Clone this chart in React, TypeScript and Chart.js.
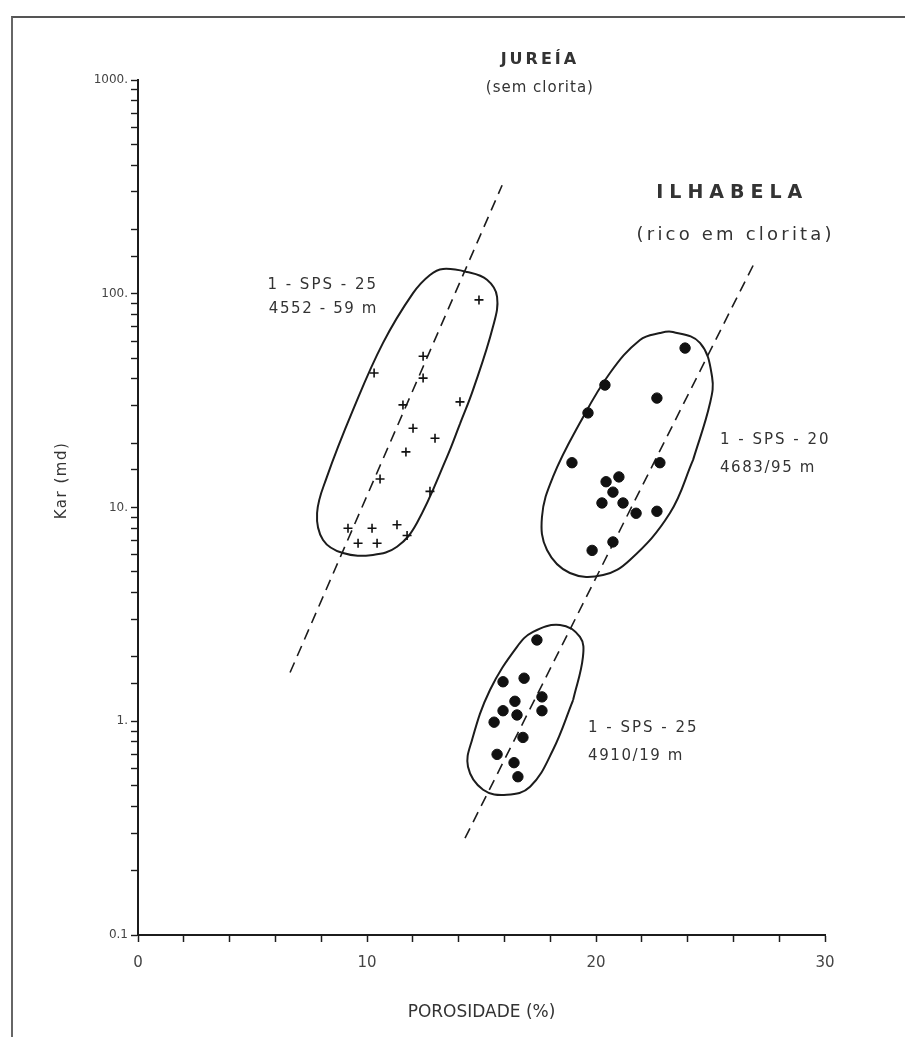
import React, { useEffect, useRef } from "react";
import { Chart, registerables } from "chart.js";

Chart.register(...registerables);

// ---------- data (porosity %, permeability md) ----------
const jureiaPorosity = [14.89, 12.45, 10.31, 12.45, 11.57, 14.06, 12.01, 12.97, 11.7, 10.57, 12.75, 9.17, 10.22, 11.31, 9.61, 10.44, 11.75];
const jureiaPerm = [93.6, 51.0, 42.6, 40.3, 30.2, 31.2, 23.5, 21.1, 18.2, 13.6, 11.9, 8.0, 8.0, 8.3, 6.8, 6.8, 7.4];

const ilhabelaUpperPorosity = [23.89, 22.66, 20.39, 19.65, 18.95, 22.79, 21.0, 20.44, 20.74, 20.26, 21.18, 21.75, 22.66, 20.74, 19.83];
const ilhabelaUpperPerm = [55.7, 32.5, 37.4, 27.7, 16.2, 16.2, 13.9, 13.2, 11.8, 10.5, 10.5, 9.4, 9.6, 6.9, 6.3];

const ilhabelaLowerPorosity = [17.42, 15.94, 16.86, 17.64, 17.64, 16.46, 15.94, 16.55, 15.55, 16.81, 15.68, 16.42, 16.59];
const ilhabelaLowerPerm = [2.4, 1.53, 1.59, 1.3, 1.12, 1.24, 1.12, 1.07, 0.99, 0.84, 0.7, 0.64, 0.55];

// trend lines (dashed)
const jureiaTrendX = [6.64, 15.9];
const jureiaTrendY = [1.69, 322];
const ilhabelaTrendX = [14.28, 26.94];
const ilhabelaTrendY = [0.284, 141];

// hand-drawn envelopes
const jureiaOutlineX = [14.06, 13.49, 12.18, 11.31, 10.26, 8.95, 8.08, 7.82, 8.25, 9.39, 10.7, 12.01, 12.75, 13.32, 14.37, 15.24, 15.68, 15.5, 14.63, 14.06];
const jureiaOutlineY = [24.6, 17.2, 8.47, 6.55, 6.0, 6.12, 7.05, 9.42, 13.9, 28.6, 58.9, 100.7, 122.5, 130.6, 126.4, 116.2, 96.8, 70.0, 35.5, 24.6];

const upperOutlineX = [24.24, 23.23, 21.48, 20.31, 18.86, 17.86, 17.64, 18.12, 19.3, 20.61, 21.92, 22.79, 23.36, 24.54, 25.07, 24.98, 24.24];
const upperOutlineY = [16.7, 9.42, 5.68, 4.83, 4.94, 6.33, 9.03, 13.9, 24.9, 42.6, 60.8, 65.5, 66.2, 58.9, 40.8, 30.8, 16.7];

const lowerOutlineX = [19.0, 18.12, 17.12, 16.11, 15.07, 14.41, 14.59, 15.37, 16.55, 17.25, 18.43, 19.3, 19.43, 19.0];
const lowerOutlineY = [1.257, 0.734, 0.494, 0.453, 0.478, 0.612, 0.82, 1.4, 2.23, 2.62, 2.82, 2.48, 2.0, 1.257];

// axis ticks
const xMin = 0;
const xMax = 30;
const xStep = 2;
const xLabelledTicks = [0, 10, 20, 30];
const yMin = 0.1;
const yMax = 1000;
const yMajorValues = [0.1, 1, 10, 100, 1000];
const yMajorLabels = ["0.1", "1.", "10.", "100.", "1000."];

// text annotations (anchored in data coordinates)
const annotationTexts = ["JUREÍA", "(sem clorita)", "ILHABELA", "(rico em clorita)", "1 - SPS - 25", "4552 - 59 m", "1 - SPS - 20", "4683/95 m", "1 - SPS - 25", "4910/19 m"];
const annotationX = [17.55, 17.55, 25.95, 26.1, 10.48, 10.48, 25.41, 25.41, 19.65, 19.65];
const annotationY = [1240, 918, 296, 188, 110, 85, 20.7, 15.3, 0.93, 0.69];

const FONT = '"DejaVu Sans", "Liberation Sans", sans-serif';
const INK = "#1c1c1c";
const TEXT = "#333";

const zip = (xs: number[], ys: number[]) => xs.map((x, i) => ({ x, y: ys[i] }));

const annotationStyle = [
  { align: "center", size: 16, spacing: 3, weight: "600" },
  { align: "center", size: 15, spacing: 1, weight: "500" },
  { align: "center", size: 19, spacing: 6, weight: "600" },
  { align: "center", size: 18, spacing: 3.2, weight: "500" },
  { align: "right", size: 15, spacing: 2, weight: "500" },
  { align: "right", size: 15, spacing: 1.6, weight: "500" },
  { align: "left", size: 15, spacing: 2, weight: "500" },
  { align: "left", size: 15, spacing: 1.6, weight: "500" },
  { align: "left", size: 15, spacing: 2, weight: "500" },
  { align: "left", size: 15, spacing: 1.6, weight: "500" },
];

const textPlugin = {
  id: "textAnnotations",
  afterDraw(chart: any) {
    const { ctx, scales, chartArea } = chart;
    const xs = scales.x;
    const ys = scales.y;
    ctx.save();
    ctx.fillStyle = TEXT;
    ctx.textBaseline = "middle";
    annotationTexts.forEach((t, i) => {
      const st = annotationStyle[i];
      ctx.font = `${st.weight} ${st.size}px ${FONT}`;
      (ctx as any).letterSpacing = `${st.spacing}px`;
      ctx.textAlign = st.align as CanvasTextAlign;
      ctx.fillText(t, xs.getPixelForValue(annotationX[i]), ys.getPixelForValue(annotationY[i]));
    });
    // y axis title
    ctx.font = `500 15px ${FONT}`;
    (ctx as any).letterSpacing = "1.5px";
    ctx.textAlign = "center";
    ctx.translate(chartArea.left - 76, (chartArea.top + chartArea.bottom) / 2 - 27);
    ctx.rotate(-Math.PI / 2);
    ctx.fillText("Kar (md)", 0, 0);
    ctx.restore();
  },
};

export default function App() {
  const ref = useRef<HTMLCanvasElement | null>(null);

  useEffect(() => {
    if (!ref.current) return;
    const outline = (xs: number[], ys: number[]) => ({
      data: zip(xs, ys),
      showLine: true,
      borderColor: INK,
      borderWidth: 2,
      pointRadius: 0,
      tension: 0.4,
      fill: false,
    });
    const trend = (xs: number[], ys: number[]) => ({
      data: zip(xs, ys),
      showLine: true,
      borderColor: INK,
      borderWidth: 1.6,
      borderDash: [11, 7],
      pointRadius: 0,
      tension: 0,
      fill: false,
    });
    const dots = (xs: number[], ys: number[]) => ({
      data: zip(xs, ys),
      showLine: false,
      pointStyle: "circle",
      pointRadius: 5.2,
      backgroundColor: "#111",
      borderColor: "#111",
      borderWidth: 1,
    });

    const chart = new Chart(ref.current, {
      type: "scatter",
      data: {
        datasets: [
          {
            data: zip(jureiaPorosity, jureiaPerm),
            showLine: false,
            pointStyle: "cross",
            pointRadius: 4.5,
            borderColor: "#111",
            borderWidth: 1.6,
          },
          dots(ilhabelaUpperPorosity, ilhabelaUpperPerm),
          dots(ilhabelaLowerPorosity, ilhabelaLowerPerm),
          trend(jureiaTrendX, jureiaTrendY),
          trend(ilhabelaTrendX, ilhabelaTrendY),
          outline(jureiaOutlineX, jureiaOutlineY),
          outline(upperOutlineX, upperOutlineY),
          outline(lowerOutlineX, lowerOutlineY),
        ] as any,
      },
      options: {
        responsive: false,
        animation: false,
        events: [],
        layout: { padding: { left: 8, top: 80, right: 80, bottom: 0 } },
        plugins: { legend: { display: false }, tooltip: { enabled: false } },
        scales: {
          x: {
            type: "linear",
            min: xMin,
            max: xMax,
            ticks: {
              stepSize: xStep,
              autoSkip: false,
              maxRotation: 0,
              color: "#444",
              padding: 12,
              font: { family: FONT, size: 15 },
              callback: (v: any) => (xLabelledTicks.includes(Number(v)) ? String(v) : ""),
            },
            grid: { display: true, drawOnChartArea: false, drawTicks: true, tickLength: 7, tickColor: INK, tickWidth: 1.5 },
            border: { display: true, color: INK, width: 2 },
            title: {
              display: true,
              text: "POROSIDADE (%)",
              color: TEXT,
              font: { family: FONT, size: 17, weight: "500" },
              padding: { top: 0, bottom: 14 },
            },
            afterFit: (s: any) => {
              s.height = 102;
            },
          },
          y: {
            type: "logarithmic",
            min: yMin,
            max: yMax,
            ticks: {
              autoSkip: false,
              color: "#444",
              padding: 3,
              font: { family: FONT, size: 12 },
              callback: (v: any) => {
                const n = Number(v);
                const idx = yMajorValues.findIndex((m) => Math.abs(m - n) / m < 1e-6);
                return idx >= 0 ? yMajorLabels[idx] : "";
              },
            },
            grid: { display: true, drawOnChartArea: false, drawTicks: true, tickLength: 7, tickColor: INK, tickWidth: 1.4 },
            border: { display: true, color: INK, width: 2 },
            afterFit: (s: any) => {
              s.width = 130;
            },
          },
        },
      } as any,
      plugins: [textPlugin],
    });
    return () => chart.destroy();
  }, []);

  return (
    <div style={{ position: "fixed", left: 0, top: 0, width: 905, height: 1037, background: "#fff" }}>
      <div
        style={{
          position: "absolute",
          left: 11,
          top: 16,
          width: 905 - 11,
          height: 1037 - 16,
          borderTop: "2px solid #555",
          borderLeft: "2px solid #666",
          boxSizing: "border-box",
        }}
      />
      <canvas ref={ref} width={905} height={1037} style={{ position: "absolute", left: 0, top: 0 }} />
    </div>
  );
}
